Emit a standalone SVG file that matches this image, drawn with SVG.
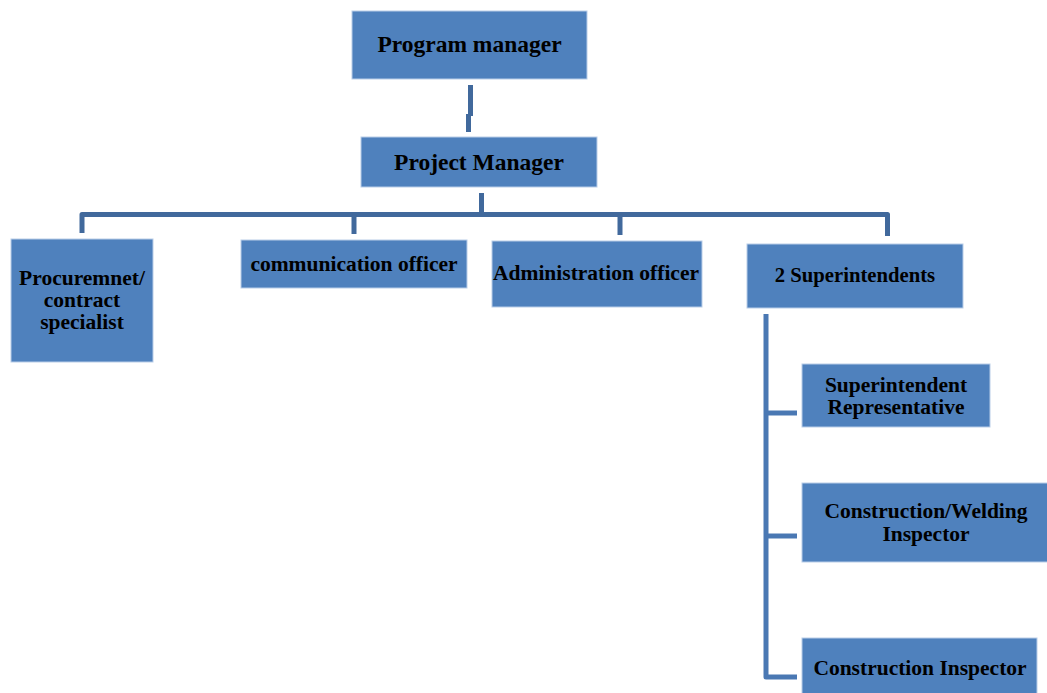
<svg xmlns="http://www.w3.org/2000/svg" width="1047" height="693" viewBox="0 0 1047 693">
  <style>
    .box { fill: #4F81BD; stroke: #B9CDE8; stroke-width: 1; }
    .lbl { font-family: "Liberation Serif", "Times New Roman", serif; font-weight: bold; fill: #000; text-anchor: middle; font-size: 21.5px; }
    .big { font-size: 23.5px; }
    .mid { font-size: 20.7px; }
    .bus { fill: none; stroke: #41699C; stroke-width: 5; stroke-linejoin: round; }
    .side { fill: none; stroke: #4A78B3; stroke-width: 5; stroke-linejoin: round; }
  </style>

  <rect width="1047" height="693" fill="#FFFFFF"/>

  <!-- connectors -->
  <g id="connectors">
    <path class="bus" d="M470.5 85 V116 M468.5 114 V132"/>
    <path class="bus" d="M481.5 193 V215" stroke-width="9"/>
    <path class="bus" d="M82 233 V214.5 H887.5 V236"/>
    <path class="bus" d="M354 214.5 V234"/>
    <path class="bus" d="M620 214.5 V235"/>
    <path class="side" d="M766 314 V677 H797"/>
    <path class="side" d="M766 413 H797"/>
    <path class="side" d="M766 536 H797"/>
  </g>

  <g id="program-manager">
    <rect class="box" x="352" y="11" width="235" height="68"/>
    <text class="lbl big" x="469.5" y="52">Program manager</text>
  </g>

  <g id="project-manager">
    <rect class="box" x="361" y="137" width="236" height="50"/>
    <text class="lbl big" x="479" y="170">Project Manager</text>
  </g>

  <g id="procurement">
    <rect class="box" x="11" y="239" width="142" height="123"/>
    <text class="lbl" x="82" y="285">Procuremnet/</text>
    <text class="lbl" x="82" y="307">contract</text>
    <text class="lbl" x="82" y="329">specialist</text>
  </g>

  <g id="communication">
    <rect class="box" x="241" y="240" width="226" height="48"/>
    <text class="lbl" x="354" y="271">communication officer</text>
  </g>

  <g id="administration">
    <rect class="box" x="492" y="241" width="210" height="66"/>
    <text class="lbl" x="596" y="280">Administration officer</text>
  </g>

  <g id="superintendents">
    <rect class="box" x="747" y="244" width="216" height="64"/>
    <text class="lbl mid" x="855" y="282">2 Superintendents</text>
  </g>

  <g id="superintendent-rep">
    <rect class="box" x="802" y="364" width="188" height="63"/>
    <text class="lbl" x="896" y="392">Superintendent</text>
    <text class="lbl" x="896" y="414">Representative</text>
  </g>

  <g id="welding-inspector">
    <rect class="box" x="802" y="483" width="246" height="79"/>
    <text class="lbl" x="926" y="518">Construction/Welding</text>
    <text class="lbl" x="926" y="541">Inspector</text>
  </g>

  <g id="construction-inspector">
    <rect class="box" x="802" y="638" width="235" height="56"/>
    <text class="lbl" x="920" y="675">Construction Inspector</text>
  </g>
</svg>
